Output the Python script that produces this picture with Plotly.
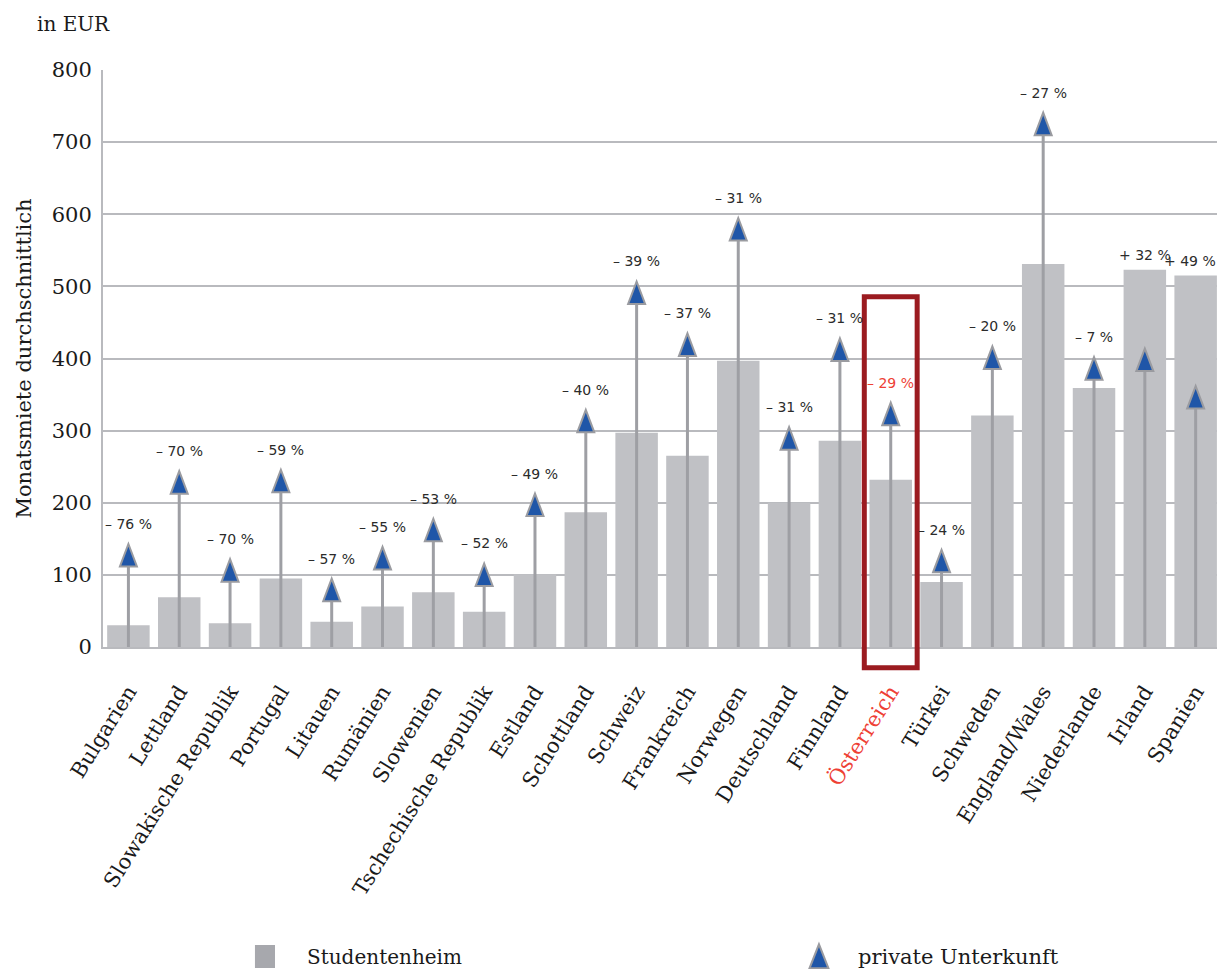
import plotly.graph_objects as go

categories = ["Bulgarien", "Lettland", "Slowakische Republik", "Portugal", "Litauen",
              "Rumänien", "Slowenien", "Tschechische Republik", "Estland", "Schottland",
              "Schweiz", "Frankreich", "Norwegen", "Deutschland", "Finnland",
              "Österreich", "Türkei", "Schweden", "England/Wales", "Niederlande",
              "Irland", "Spanien"]
studentenheim = [30, 69, 33, 95, 35, 56, 76, 49, 101, 187, 297, 265, 397, 200, 286,
                 232, 90, 321, 531, 359, 523, 515]
privat = [122, 223, 101, 225, 74, 118, 157, 95, 192, 308, 486, 414, 574, 284, 407,
          318, 114, 396, 720, 381, 393, 341]
change_labels = ["– 76 %", "– 70 %", "– 70 %", "– 59 %", "– 57 %", "– 55 %", "– 53 %",
                 "– 52 %", "– 49 %", "– 40 %", "– 39 %", "– 37 %", "– 31 %", "– 31 %",
                 "– 31 %", "– 29 %", "– 24 %", "– 20 %", "– 27 %", "– 7 %", "+ 32 %",
                 "+ 49 %"]
y_ticks = [0, 100, 200, 300, 400, 500, 600, 700, 800]
highlight = "Österreich"

BAR = "#c0c1c5"
STEM = "#9e9fa4"
TRI = "#1f56a8"
TRI_LINE = "#9a9ba0"
GRID = "#b9babe"
RED_TXT = "#ee4035"
RED_BOX = "#9b1b20"
TXT = "#1a1a1a"
SERIF = "DejaVu Serif"

x = list(range(len(categories)))
hi = categories.index(highlight)
ticktext = [f'<span style="color:{RED_TXT}">{c}</span>' if c == highlight else c
            for c in categories]

fig = go.Figure()
fig.add_trace(go.Bar(x=x, y=studentenheim, width=0.836, marker=dict(color=BAR, line=dict(width=0)),
                     name="Studentenheim", showlegend=False))
fig.add_trace(go.Scatter(x=x, y=privat, mode="markers", name="private Unterkunft",
                         marker=dict(size=1, opacity=0),
                         error_y=dict(type="data", symmetric=False, array=[0] * len(x),
                                      arrayminus=privat, thickness=3, width=0, color=STEM),
                         showlegend=False))

tri_path = "M-8.5,-7.5 L8.5,-7.5 L0,15 Z"
shapes = []
for i, v in zip(x, privat):
    shapes.append(dict(type="path", xref="x", yref="y", xsizemode="pixel", ysizemode="pixel",
                       xanchor=i, yanchor=v, path=tri_path, fillcolor=TRI,
                       line=dict(color=TRI_LINE, width=2), layer="above"))

# highlight box around Österreich
shapes.append(dict(type="rect", xref="x", yref="paper", x0=hi - 0.52, x1=hi + 0.52,
                   y0=-0.036, y1=0.607, line=dict(color=RED_BOX, width=5),
                   fillcolor="rgba(0,0,0,0)", layer="above"))

# legend marks
shapes.append(dict(type="rect", xref="paper", yref="paper", x0=0.1364, x1=0.1544,
                   y0=-0.5563, y1=-0.5165, fillcolor="#a7a8ad", line=dict(width=0)))
shapes.append(dict(type="path", xref="paper", yref="paper", xsizemode="pixel", ysizemode="pixel",
                   xanchor=0.6427, yanchor=-0.543, path="M-9.5,-8 L9.5,-8 L0,16 Z",
                   fillcolor=TRI, line=dict(color=TRI_LINE, width=2)))

annotations = []
last = len(categories) - 1
for i, (h, p, lab) in enumerate(zip(studentenheim, privat, change_labels)):
    if p >= h:
        yv, ys = p, 35
    else:
        yv, ys = h, 15
    annotations.append(dict(x=i, y=yv, xref="x", yref="y", text=lab, showarrow=False,
                            yshift=ys, xshift=-6 if i == last else 0,
                            yanchor="middle", xanchor="center",
                            font=dict(family="DejaVu Sans", size=14,
                                      color=RED_TXT if categories[i] == highlight else "#2b2b2b")))

annotations.append(dict(x=-0.061, y=1.0797, xref="paper", yref="paper", text="in EUR",
                        showarrow=False, xanchor="left", yanchor="middle",
                        font=dict(family=SERIF, size=20, color=TXT)))
annotations.append(dict(x=0.1813, y=-0.537, xref="paper", yref="paper", text="Studentenheim",
                        showarrow=False, xanchor="left", yanchor="middle",
                        font=dict(family=SERIF, size=20, color=TXT)))
annotations.append(dict(x=0.676, y=-0.537, xref="paper", yref="paper", text="private Unterkunft",
                        showarrow=False, xanchor="left", yanchor="middle",
                        font=dict(family=SERIF, size=21, color=TXT)))

fig.update_layout(
    width=1217, height=969,
    margin=dict(l=103, r=0, t=70, b=322, autoexpand=False),
    paper_bgcolor="white", plot_bgcolor="white",
    barmode="overlay", showlegend=False,
    shapes=shapes, annotations=annotations,
    xaxis=dict(range=[-0.5, 21.42], tickmode="array", tickvals=x, ticktext=ticktext,
               tickangle=-58, tickfont=dict(family=SERIF, size=21, color=TXT),
               showgrid=False, zeroline=False, showline=True, linecolor=GRID, linewidth=2,
               ticks="", ticklabelstandoff=22, automargin=False, fixedrange=True),
    yaxis=dict(range=[0, 800], tickmode="array", tickvals=y_ticks,
               tickfont=dict(family=SERIF, size=21, color=TXT),
               showgrid=True, gridcolor=GRID, gridwidth=1.5, zeroline=False,
               showline=True, linecolor=GRID, linewidth=2, ticks="", ticklabelstandoff=5,
               title=dict(text="Monatsmiete durchschnittlich", standoff=14,
                          font=dict(family=SERIF, size=21, color=TXT)),
               automargin=False, fixedrange=True),
)

fig.write_html("out.html", config={"displayModeBar": False},
               post_script="document.body.style.margin='0';")
